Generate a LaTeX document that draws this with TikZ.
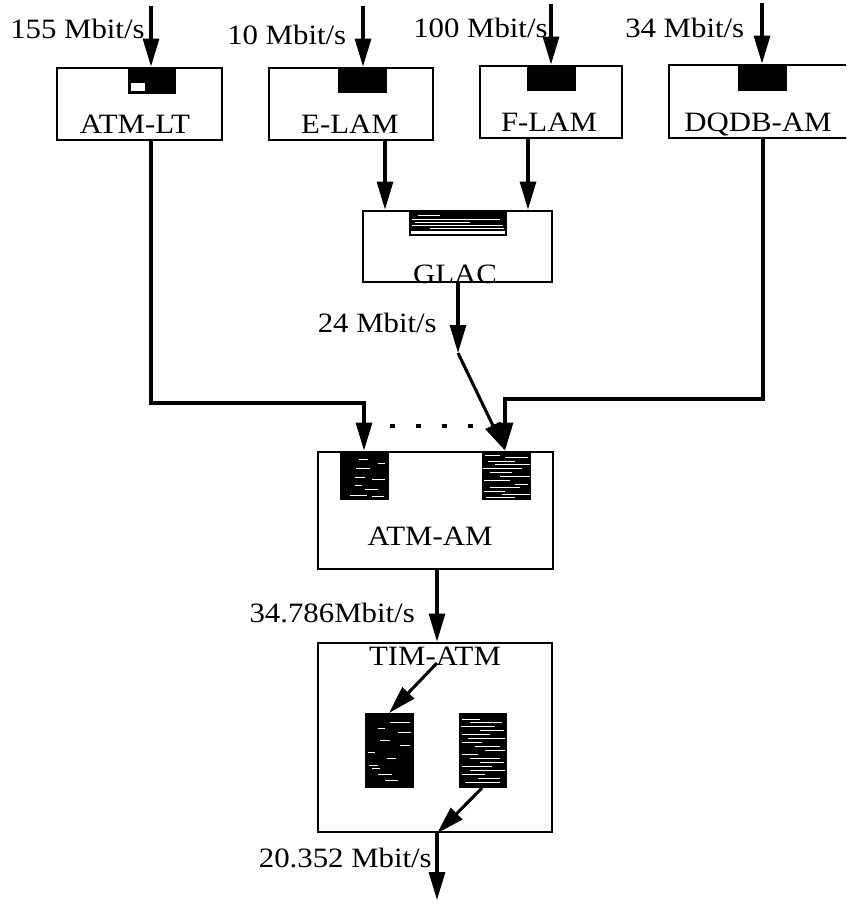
\documentclass[tikz,border=0pt]{standalone}
\usepackage{fontspec}
\setmainfont[FakeStretch=1.1]{Liberation Serif}
\usetikzlibrary{arrows.meta}
\begin{document}
\begin{tikzpicture}[x=0.75pt,y=-0.75pt,
  box/.style={draw, line width=2.1pt, inner sep=0pt, minimum height=54pt},
  lbl/.style={font=\fontsize{21}{24}\selectfont, inner sep=0pt},
  arr/.style={line width=2.3pt, -{Triangle[length=21pt,width=12pt]}},
  dotline/.style={line width=3pt, dash pattern=on 3.5pt off 16pt},
  streak/.style={white, line width=0.6pt},
  chip/.style={fill=black}]
\path[use as bounding box] (0,0) rectangle (846,903);
\clip (0,0) rectangle (846,903);

% boxes
\node[box, minimum width=123.75pt] (atmlt) at (139.5,104) {};
\node[box, minimum width=123pt] (elam) at (351,104) {};
\node[box, minimum width=106.5pt] (flam) at (551,102) {};
\node[box, minimum width=143.25pt, minimum height=54.75pt] (dqdb) at (764.5,101.5) {};
\node[box, minimum width=141.75pt, minimum height=53.25pt] (glac) at (457.5,246.5) {};
\node[box, minimum width=176.25pt, minimum height=87.75pt] (atmam) at (435.5,510.5) {};
\node[box, minimum width=175.5pt, minimum height=141.75pt] (timatm) at (435,737.5) {};

% inner chips
\fill[chip] (128,69) rectangle (176,94);
\filldraw[fill=white, draw=black, line width=0.9pt] (130,82) rectangle (146,92);
\fill[chip] (338,69) rectangle (387,93);
\fill[chip] (527,66) rectangle (576,91);
\fill[chip] (738,65) rectangle (787,91);

\draw[line width=1.6pt] (410,211) rectangle (506,235);
\fill[chip] (410,211) rectangle (506,231);
\foreach \y/\a/\b in {215/418/440, 219/412/500, 222/415/470, 225/412/503, 228/430/504}
  \draw[streak] (\a,\y) -- (\b,\y);

\fill[chip] (340,452) rectangle (389,500);
\foreach \y/\a/\b in {459/359/368, 463/378/385, 468/356/370, 477/355/365, 479/372/385, 485/355/362, 489/365/378, 495/350/367, 496/372/384}
  \draw[streak] (\a,\y) -- (\b,\y);

\fill[chip] (482,452) rectangle (531,500);
\foreach \y/\a/\b in {455/485/500, 457/505/528, 461/488/515, 464/495/530, 468/483/522, 472/490/512, 476/500/530, 480/484/510, 484/515/528, 487/490/520, 491/484/505, 494/502/530, 497/486/515}
  \draw[streak] (\a,\y) -- (\b,\y);

\fill[chip] (365,713) rectangle (414,788);
\foreach \y/\a/\b in {722/390/410, 728/378/385, 732/398/411, 740/380/390, 745/400/410, 752/368/375, 758/387/396, 765/369/378, 768/372/380, 774/378/392, 780/385/398}
  \draw[streak] (\a,\y) -- (\b,\y);

\fill[chip] (459,713) rectangle (507,788);
\foreach \y/\a/\b in {719/462/480, 722/470/502, 726/461/495, 730/480/504, 734/462/490, 738/468/505, 742/462/482, 746/475/500, 750/485/505, 754/462/478, 758/470/500, 762/480/504, 766/462/492, 770/470/505, 774/462/485, 778/478/500, 782/465/500}
  \draw[streak] (\a,\y) -- (\b,\y);

% labels
\node[lbl, anchor=base] (tatmlt) at (135,133) {ATM-LT};
\node[lbl, anchor=base] (telam) at (350,133) {E-LAM};
\node[lbl, anchor=base] (tflam) at (549,131) {F-LAM};
\node[lbl, anchor=base] (tdqdb) at (758,131) {DQDB-AM};
\node[lbl, anchor=base] (tglac) at (455,283) {GLAC};
\node[lbl, anchor=base] (tatmam) at (430,545) {ATM-AM};
\node[lbl, anchor=base] (ttim) at (435,665) {TIM-ATM};
\node[lbl, anchor=base west] (r155) at (10,38) {155 Mbit/s};
\node[lbl, anchor=base west] (r10) at (227,44) {10 Mbit/s};
\node[lbl, anchor=base west] (r100) at (413,37) {100 Mbit/s};
\node[lbl, anchor=base west] (r34) at (625,37) {34 Mbit/s};
\node[lbl, anchor=base east] (r24) at (437,332) {24 Mbit/s};
\node[lbl, anchor=base east] (r34786) at (415,622) {34.786Mbit/s};
\node[lbl, anchor=base east] (r20) at (432,867) {20.352 Mbit/s};

% coordinates
\coordinate (i1) at (151,6);
\coordinate (i2) at (363,6);
\coordinate (i3) at (551,4);
\coordinate (i4) at (762,3);
\coordinate (a1) at (151,403);
\coordinate (a2) at (364,403);
\coordinate (e1) at (385,0);
\coordinate (f1) at (528,0);
\coordinate (g1) at (458,353);
\coordinate (m2) at (505,0);
\coordinate (d1) at (763,399);
\coordinate (o1) at (437,0);
\coordinate (t1) at (437,663);
\coordinate (t2) at (389,713);
\coordinate (t3) at (482,788);
\coordinate (out) at (437,900);
\coordinate (dl) at (390,426);
\coordinate (dr) at (497,426);

% connectors
\draw[arr] (i1) -- (i1 |- atmlt.north);
\draw[arr] (i2) -- (i2 |- elam.north);
\draw[arr] (i3) -- (i3 |- flam.north);
\draw[arr] (i4) -- (i4 |- dqdb.north);
\draw[arr] (i1 |- atmlt.south) -- (a1) -- (a2) -- (a2 |- atmam.north);
\draw[arr] (e1 |- elam.south) -- (e1 |- glac.north);
\draw[arr] (f1 |- flam.south) -- (f1 |- glac.north);
\draw[arr] (g1 |- glac.south) -- (g1);
\draw[arr] (g1) -- (m2 |- atmam.north);
\draw[arr] (d1 |- dqdb.south) -- (d1) -- (m2 |- d1) -- (m2 |- atmam.north);
\draw[dotline] (dl) -- (dr);
\draw[arr] (o1 |- atmam.south) -- (o1 |- timatm.north);
\draw[arr] (t1) -- (t2);
\draw[arr] (t3) -- (o1 |- timatm.south);
\draw[arr] (o1 |- timatm.south) -- (out);
\end{tikzpicture}
\end{document}
